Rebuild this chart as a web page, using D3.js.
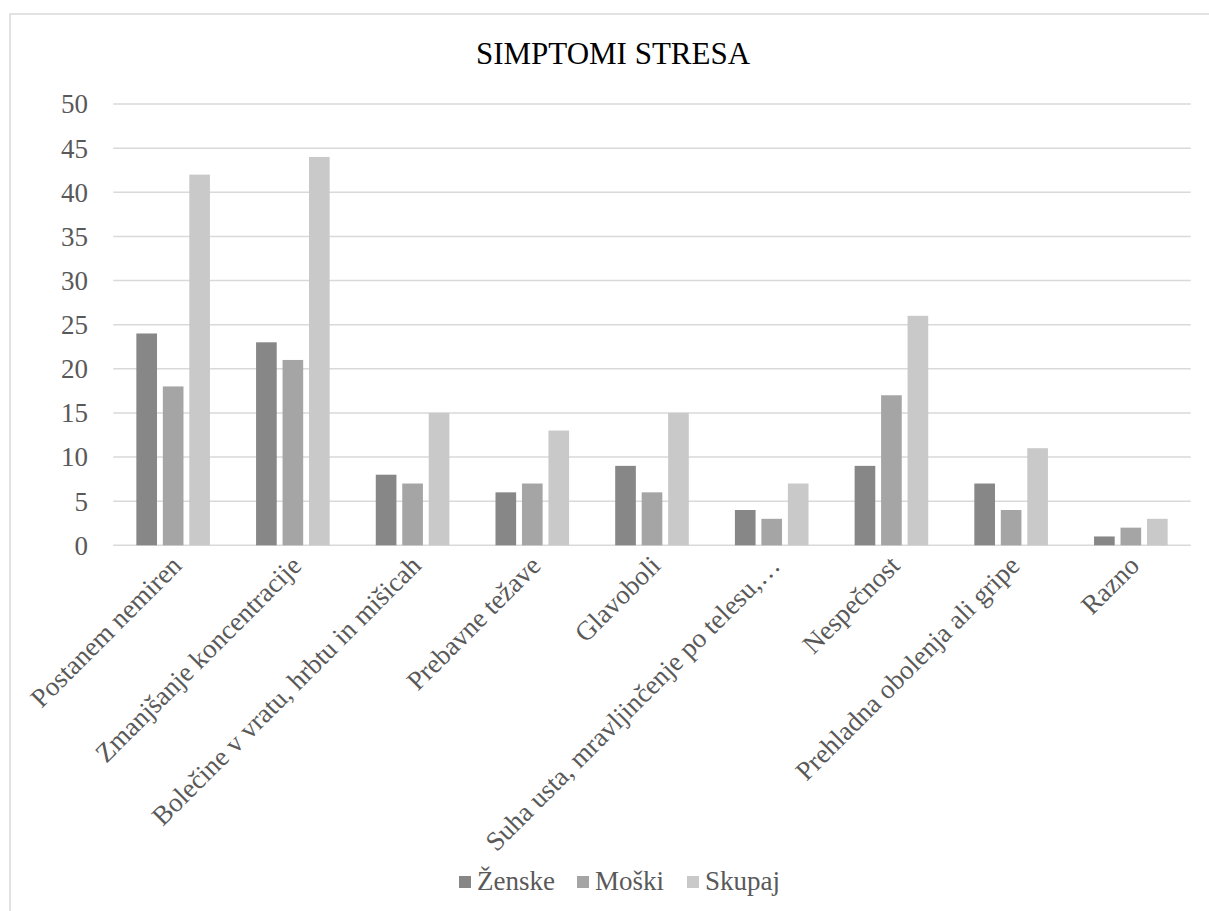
<!DOCTYPE html>
<html><head><meta charset="utf-8">
<script src="https://cdn.jsdelivr.net/npm/d3@7"></script>
<style>html,body{margin:0;padding:0;background:#fff;}svg{display:block;}
svg text{font-family:"Liberation Serif","Times New Roman",Times,"DejaVu Serif",serif;}</style>
</head><body>
<script>
const categories = ["Postanem nemiren","Zmanjšanje koncentracije","Bolečine v vratu, hrbtu in mišicah","Prebavne težave","Glavoboli","Suha usta, mravljinčenje po telesu,…","Nespečnost","Prehladna obolenja ali gripe","Razno"];
const seriesNames = ["Ženske","Moški","Skupaj"];
const zenske = [24,23,8,6,9,4,9,7,1];
const moski = [18,21,7,7,6,3,17,4,2];
const skupaj = [42,44,15,13,15,7,26,11,3];
const yTicks = [0,5,10,15,20,25,30,35,40,45,50];
const colors = ["#878787","#a5a5a5","#c9c9c9"];
const chartTitle = "SIMPTOMI STRESA";

const W = 1209, H = 911;
const svg = d3.select("body").append("svg").attr("width", W).attr("height", H);
svg.append("rect").attr("x",10).attr("y",14).attr("width",W+10).attr("height",H+10)
  .attr("fill","#fff").attr("stroke","#d9d9d9").attr("stroke-width",1.5);

const pLeft = 113.3, pRight = 1190.7, pTop = 104, pBottom = 545.3;
const x = d3.scaleBand().domain(categories).range([pLeft,pRight]).paddingInner(0).paddingOuter(0);
const y = d3.scaleLinear().domain([0,50]).range([pBottom,pTop]);
const groupW = 73.6;
const x1 = d3.scaleBand().domain(seriesNames).range([0,groupW]).paddingInner(0.22);

// gridlines
svg.append("g").selectAll("line").data(yTicks).join("line")
  .attr("x1",pLeft).attr("x2",pRight)
  .attr("y1",d=>y(d)).attr("y2",d=>y(d))
  .attr("stroke","#d9d9d9").attr("stroke-width",1.5);

// y axis labels
const yAxis = d3.axisLeft(y).tickValues(yTicks).tickSize(0).tickPadding(0);
const ya = svg.append("g").attr("transform",`translate(88,0)`).call(yAxis);
ya.select(".domain").remove();
ya.selectAll("text").attr("font-family",null).attr("font-size",27).attr("fill","#595959").attr("dy","0.33em");
ya.attr("font-family",null);

// bars
const data = [zenske, moski, skupaj];
const g = svg.append("g");
seriesNames.forEach((s,si)=>{
  g.append("g").selectAll("rect").data(categories).join("rect")
    .attr("x",(c)=>x(c)+(x.bandwidth()-groupW)/2+x1(s))
    .attr("width",x1.bandwidth())
    .attr("y",(c,i)=>y(data[si][i]))
    .attr("height",(c,i)=>y(0)-y(data[si][i]))
    .attr("fill",colors[si]);
});

// category labels
svg.append("g").selectAll("text").data(categories).join("text")
  .attr("transform",c=>`translate(${x(c)+x.bandwidth()/2+10},${pBottom+22}) rotate(-45)`)
  .attr("text-anchor","end")
  .attr("font-size",27).attr("fill","#595959")
  .text(c=>c);

// title
svg.append("text").attr("x",613).attr("y",64).attr("text-anchor","middle")
  .attr("font-size",31).attr("fill","#000").text(chartTitle);

// legend
const legendX = [459, 577, 687];
const lg = svg.append("g");
seriesNames.forEach((s,i)=>{
  lg.append("rect").attr("x",legendX[i]).attr("y",876).attr("width",12).attr("height",12).attr("fill",colors[i]);
  lg.append("text").attr("x",legendX[i]+18).attr("y",890).attr("font-size",27)
    .attr("fill","#595959").text(s);
});
</script>
</body></html>
